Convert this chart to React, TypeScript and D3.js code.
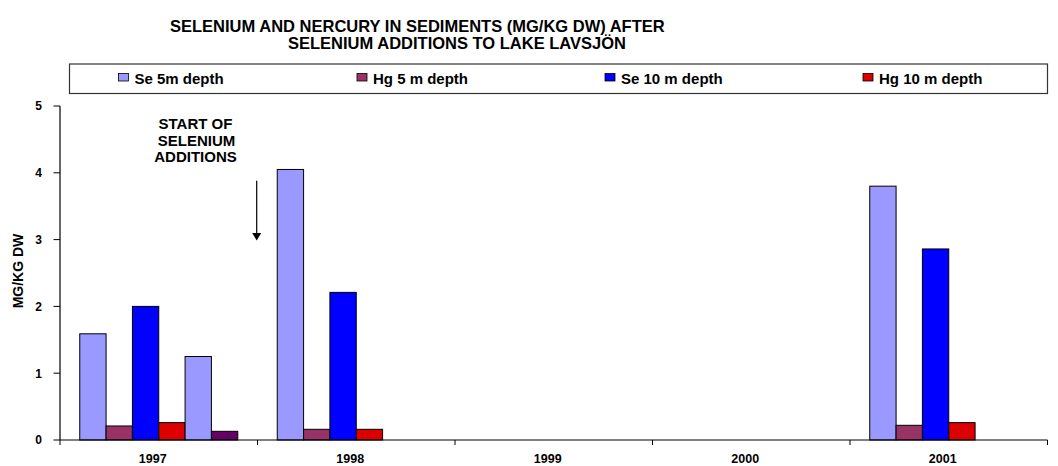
import React from "react";
import * as d3 from "d3";

const years = ["1997", "1998", "1999", "2000", "2001"];
const seriesNames = ["Se 5m depth", "Hg 5 m depth", "Se 10 m depth", "Hg 10 m depth", "Se 5m depth (b)", "Hg (b)"];
const legendNames = ["Se 5m depth", "Hg 5 m depth", "Se 10 m depth", "Hg 10 m depth"];
const colors = ["#9999FF", "#993366", "#0000FF", "#DD0000", "#9999FF", "#660066"];
const se5m = [1.59, 4.05, null, null, 3.8];
const hg5m = [0.21, 0.16, null, null, 0.22];
const se10m = [2.0, 2.21, null, null, 2.86];
const hg10m = [0.26, 0.16, null, null, 0.26];
const se5mB = [1.25, null, null, null, null];
const hgB = [0.13, null, null, null, null];
const seriesValues = [se5m, hg5m, se10m, hg10m, se5mB, hgB];
const yTicks = [0, 1, 2, 3, 4, 5];

const W = 1058, H = 466;
const left = 60, right = 1047.5, top = 106, bottom = 440;

export default function App() {
  const x = d3.scaleBand().domain(years).range([left, right]).padding(0);
  const inner = d3.scaleBand().domain(seriesNames).range([0, x.bandwidth()]).paddingInner(0).paddingOuter(0.75);
  const y = d3.scaleLinear().domain([0, 5]).range([bottom, top]);
  const font = "'Liberation Sans', Arial, sans-serif";
  const legendX = [118.5, 357, 605, 863];
  const catTicks = years.map((_, i) => left + i * x.step()).concat([right]);
  return (
    <svg width={W} height={H} style={{ position: "absolute", left: 0, top: 0 }} fontFamily={font} fontWeight="bold">
      <rect width={W} height={H} fill="#fff" />
      <text x={170} y={31.5} fontSize={16.5}>SELENIUM AND NERCURY IN SEDIMENTS (MG/KG DW) AFTER</text>
      <text x={288} y={48.5} fontSize={16.5}>SELENIUM ADDITIONS TO LAKE LAVSJÖN</text>
      <rect x={69.5} y={64} width={978} height={29.5} fill="#fff" stroke="#333" strokeWidth={1.2} />
      {legendNames.map((n, i) => (
        <g key={n}>
          <rect x={legendX[i]} y={73.5} width={10} height={7.5} fill={colors[i]} stroke="#000" strokeWidth={0.8} />
          <text x={legendX[i] + 16} y={83.5} fontSize={15}>{n}</text>
        </g>
      ))}
      <text transform={`translate(23,271) rotate(-90)`} fontSize={14} textAnchor="middle">MG/KG DW</text>
      {seriesValues.map((vals, si) =>
        vals.map((v, ci) =>
          v == null ? null : (
            <rect key={`${si}-${ci}`} x={(x(years[ci]) as number) + (inner(seriesNames[si]) as number)} y={y(v)}
              width={inner.bandwidth()} height={bottom - y(v)} fill={colors[si]} stroke="#000" strokeWidth={1} />
          )
        )
      )}
      <line x1={left} x2={left} y1={top} y2={bottom} stroke="#000" strokeWidth={1.2} />
      <line x1={left} x2={right} y1={bottom} y2={bottom} stroke="#000" strokeWidth={1.2} />
      {yTicks.map(t => (
        <g key={t}>
          <line x1={left - 6.5} x2={left} y1={y(t)} y2={y(t)} stroke="#000" />
          <text x={42} y={y(t) + 4.3} fontSize={12} textAnchor="end">{t}</text>
        </g>
      ))}
      {catTicks.map((t, i) => (
        <line key={i} x1={t} x2={t} y1={bottom} y2={bottom + 5} stroke="#000" />
      ))}
      {years.map(yr => (
        <text key={yr} x={(x(yr) as number) + x.bandwidth() / 2 - 6} y={463} fontSize={12.5} textAnchor="middle">{yr}</text>
      ))}
      <text x={195.5} y={129} fontSize={15} textAnchor="middle">START OF</text>
      <text x={196.5} y={145.7} fontSize={15} textAnchor="middle">SELENIUM</text>
      <text x={195.5} y={162.3} fontSize={15} textAnchor="middle">ADDITIONS</text>
      <line x1={256.7} x2={256.7} y1={180.7} y2={234} stroke="#000" strokeWidth={1.2} />
      <path d="M252.2,233 L261.2,233 L256.7,240.5 Z" fill="#000" />
    </svg>
  );
}
